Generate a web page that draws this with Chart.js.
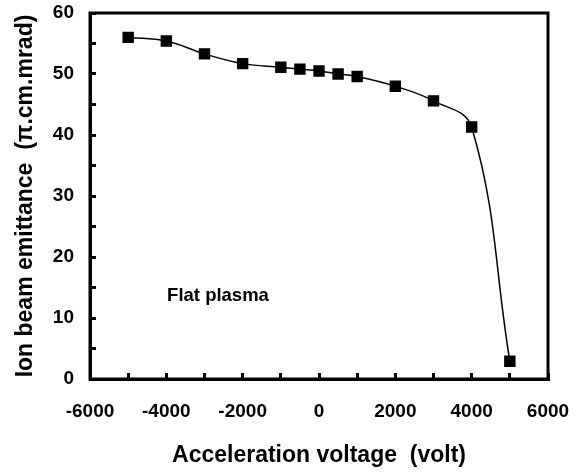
<!DOCTYPE html>
<html>
<head>
<meta charset="utf-8">
<script src="https://cdn.jsdelivr.net/npm/chart.js@4/dist/chart.umd.min.js"></script>
<style>
  body { margin: 0; background: #fff; }
  #wrap { width: 583px; height: 473px; }
</style>
</head>
<body>
<div id="wrap"><canvas id="my-chart"></canvas></div>
<script>
const voltage = [-5000, -4000, -3000, -2000, -1000, -500, 0, 500, 1000, 2000, 3000, 4000, 5000];
const emittance = [56.0, 55.4, 53.3, 51.7, 51.1, 50.8, 50.5, 50.0, 49.6, 48.0, 45.6, 41.3, 2.9];
const xTicks = [-6000, -4000, -2000, 0, 2000, 4000, 6000];
const yTicks = [0, 10, 20, 30, 40, 50, 60];
const noteText = "Flat plasma";
const notePos = { x: -3980, y: 13.6 };

const font = "'Liberation Sans', Arial, sans-serif";

// box around the plot area + the text note
const frame = {
  id: "frame",
  afterDraw(chart) {
    const { ctx, chartArea, scales } = chart;
    ctx.save();
    ctx.strokeStyle = "#000";
    ctx.lineWidth = 3;
    ctx.strokeRect(chartArea.left, chartArea.top, chartArea.right - chartArea.left, chartArea.bottom - chartArea.top);
    ctx.fillStyle = "#000";
    ctx.font = "bold 18.5px " + font;
    ctx.textBaseline = "middle";
    ctx.fillText(noteText, scales.x.getPixelForValue(notePos.x), scales.y.getPixelForValue(notePos.y));
    ctx.restore();
  }
};

let ctx = document.getElementById("my-chart").getContext("2d");
let chart = new Chart(ctx, {
  type: "line",
  data: {
    datasets: [
      {
        data: voltage.map((v, i) => ({ x: v, y: emittance[i] })),
        borderColor: "#000",
        backgroundColor: "#000",
        borderWidth: 1.5,
        pointStyle: "rect",
        pointRadius: 7,
        pointHoverRadius: 7,
        tension: 0.4,
      },
    ],
  },
  options: {
    responsive: true,
    maintainAspectRatio: false,
    animation: false,
    layout: { padding: { top: 13, right: 35, left: 0, bottom: 0 } },
    plugins: { legend: { display: false }, tooltip: { enabled: false } },
    scales: {
      x: {
        type: "linear",
        min: -6000,
        max: 6000,
        afterFit: (s) => { s.height = 94; s.paddingLeft = 0; s.paddingRight = 0; },
        border: { color: "#000", width: 3 },
        grid: { drawOnChartArea: false, drawTicks: true, tickLength: -6, color: "#000", lineWidth: 3 },
        ticks: {
          stepSize: 1000,
          padding: 27,
          color: "#000",
          font: { family: font, size: 19, weight: "bold" },
          maxRotation: 0,
          autoSkip: false,
          callback: (v) => (xTicks.includes(v) ? String(v) : ""),
        },
        title: {
          display: true,
          text: "Acceleration voltage  (volt)",
          color: "#000",
          font: { family: font, size: 23, weight: "bold" },
          padding: { top: 8 },
        },
      },
      y: {
        min: 0,
        max: 60,
        afterFit: (s) => { s.width = 90; s.paddingTop = 0; s.paddingBottom = 0; },
        border: { color: "#000", width: 3 },
        grid: { drawOnChartArea: false, drawTicks: true, tickLength: -6, color: "#000", lineWidth: 3 },
        ticks: {
          stepSize: 5,
          padding: 22,
          color: "#000",
          font: { family: font, size: 19, weight: "bold" },
          autoSkip: false,
          callback: (v) => (yTicks.includes(v) ? String(v) : ""),
        },
        title: {
          display: true,
          text: "Ion beam emittance  (\u03c0.cm.mrad)",
          color: "#000",
          font: { family: font, size: 23, weight: "bold" },
          padding: { top: 12, bottom: 0 },
        },
      },
    },
  },
  plugins: [frame],
});
</script>
</body>
</html>
